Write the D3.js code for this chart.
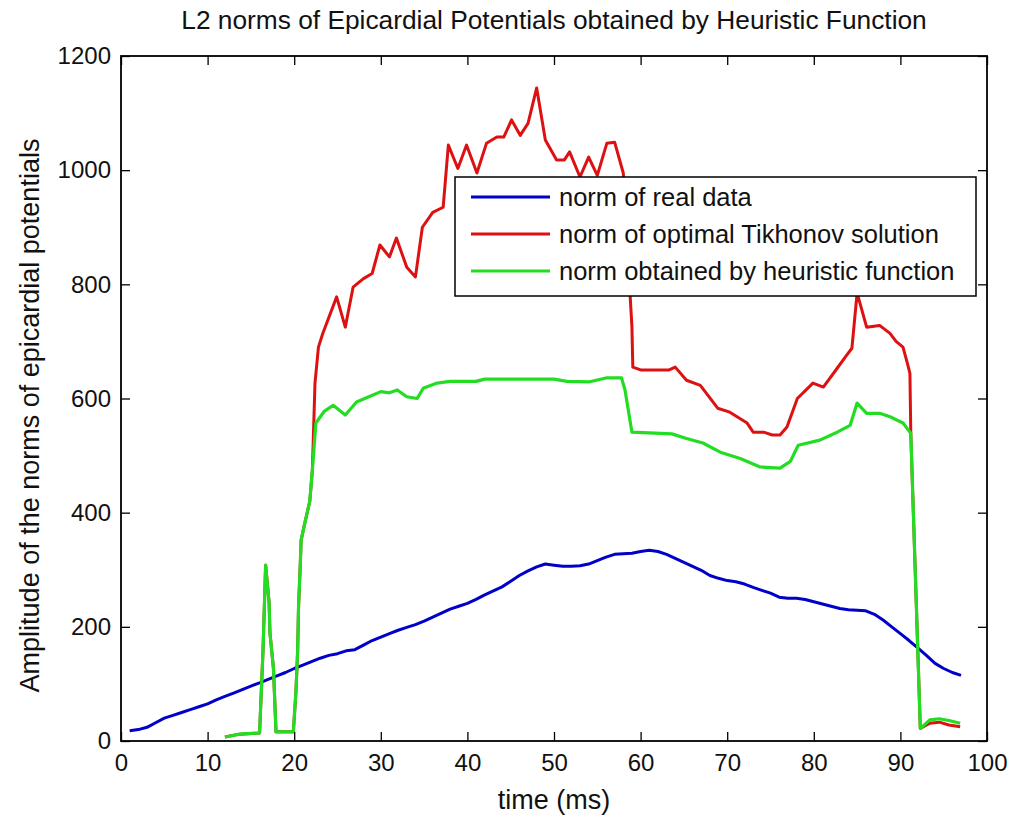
<!DOCTYPE html>
<html>
<head>
<meta charset="utf-8">
<script src="https://cdn.jsdelivr.net/npm/d3@7"></script>
<style>
  body { margin: 0; background: #fff; }
  text { font-family: "Liberation Sans", Arial, sans-serif; fill: #111; }
</style>
</head>
<body>
<svg id="chart"></svg>
<script>
// time axis of the real data (ms)
var realTime = [1, 2, 3, 4, 5, 6, 7, 8, 9, 10, 11, 12, 13, 14, 15, 16, 17, 18, 19, 20,
  21, 22, 23, 24, 25, 26, 27, 28, 29, 30, 31, 32, 33, 34, 35, 36, 37, 38, 39, 40,
  41, 42, 43, 44, 45, 46, 47, 48, 49, 50, 51, 52, 53, 54, 55, 56, 57, 58, 59, 60,
  61, 62, 63, 64, 65, 66, 67, 68, 69, 70, 71, 72, 73, 74, 75, 76, 77, 78, 79, 80,
  81, 82, 83, 84, 85, 86, 87, 88, 89, 90, 91, 92, 93, 94, 95, 96, 97];
var realNorm = [18, 20, 24, 32, 40, 45, 50, 55, 60, 65, 72, 78, 84, 90, 96, 102, 108, 114, 120, 127,
  133, 139, 145, 150, 153, 158, 160, 168, 176, 182, 188, 194, 199, 204, 210, 217, 224, 231, 236, 241,
  248, 256, 263, 270, 280, 290, 298, 305, 310, 308, 306, 306, 307, 310, 316, 322, 327, 328, 329, 332,
  334, 332, 327, 320, 313, 306, 299, 290, 285, 281, 279, 275, 269, 264, 259, 252, 250, 250, 248, 244,
  240, 236, 232, 230, 229, 228, 222, 212, 200, 188, 176, 163, 150, 136, 127, 120, 115];

// optimal Tikhonov solution
var tikTime = [12, 13.7, 16, 16.2, 16.4, 16.7, 17.1, 17.2, 17.6, 17.9, 19.9, 20.2, 20.4, 20.5, 20.7, 20.8,
  21.2, 21.8, 22.1, 22.4, 22.8, 23.3, 24.9, 25.9, 26.8, 28, 29, 29.9, 31, 31.8, 33, 34, 34.8, 36, 37.2,
  37.8, 38.9, 39.9, 41.1, 42.2, 43.4, 44.2, 45.1, 46.1, 47, 48, 49, 50.3, 51.2, 51.8, 53, 54, 55, 56.1,
  57, 58, 58.8, 59, 59.1, 60, 63.3, 64, 65.3, 66.9, 68.9, 70.3, 72.3, 73, 74.2, 75.2, 76.1, 76.9, 78.1,
  79.9, 81.1, 82.7, 83.8, 84.4, 85, 86.1, 87.6, 88.8, 89.5, 90.3, 90.8, 91.1, 91.2, 92.3, 93.4, 94.5,
  95.6, 96.9];
var tikNorm = [7, 12, 14, 86, 159, 308, 243, 189, 128, 16, 16, 86, 159, 235, 308, 352,
  380, 420, 475, 627, 690, 714, 778, 725, 795, 810, 819, 869, 848, 881, 830, 813, 900, 926, 935,
  1044, 1003, 1044, 995, 1047, 1058, 1058, 1088, 1061, 1082, 1144, 1053, 1018, 1018, 1032, 988, 1023, 991, 1047,
  1049, 995, 778, 725, 655, 650, 650, 655, 632, 623, 583, 576, 557, 541, 541, 536, 536, 550, 600,
  627, 620, 653, 676, 688, 785, 725, 728, 714, 700, 690, 662, 644, 539, 22, 31, 33,
  28, 25];

// heuristic function
var heurTime = [12, 13.7, 16, 16.2, 16.4, 16.7, 17.1, 17.2, 17.6, 17.9, 19.9, 20.2, 20.4, 20.5, 20.7, 20.8,
  21.2, 21.8, 22.1, 22.5, 23.5, 24.5, 25.9, 27.2, 29.1, 30, 31, 31.9, 33, 34.2, 34.9, 36.5, 38, 41,
  42, 50, 51.5, 54, 56, 57.8, 58.2, 59, 63.6, 65.3, 67.2, 69.2, 71.5, 73.8, 76.1, 77.3, 78.2, 80.7,
  82.7, 84.2, 85, 86.1, 87.6, 88.8, 90.3, 90.9, 91.2, 92.3, 93.4, 94.5, 95.6, 96.9];
var heurNorm = [7, 12, 14, 86, 159, 308, 243, 189, 128, 16, 16, 86, 159, 235, 308, 352,
  380, 420, 475, 557, 578, 588, 571, 594, 606, 612, 610, 615, 603, 600, 618, 627, 630, 630,
  634, 634, 630, 629, 636, 636, 615, 541, 538, 530, 522, 506, 495, 480, 478, 490, 518, 527,
  541, 553, 592, 574, 574, 568, 557, 545, 539, 22, 37, 39, 36, 31];

var xTicks = [0, 10, 20, 30, 40, 50, 60, 70, 80, 90, 100];
var yTicks = [0, 200, 400, 600, 800, 1000, 1200];
var seriesNames = ['norm of real data', 'norm of optimal Tikhonov solution', 'norm obtained by heuristic function'];
var seriesColors = ['#0000c8', '#dd1111', '#22dd22'];

var width = 1017, height = 816;
var plotLeft = 121, plotRight = 987, plotTop = 56, plotBottom = 741;

var svg = d3.select('#chart').attr('width', width).attr('height', height);

var x = d3.scaleLinear().domain([0, 100]).range([plotLeft, plotRight]);
var y = d3.scaleLinear().domain([0, 1200]).range([plotBottom, plotTop]);

var line = d3.line()
  .x(function(d) { return x(d[0]); })
  .y(function(d) { return y(d[1]); });

var series = [
  d3.zip(realTime, realNorm),
  d3.zip(tikTime, tikNorm),
  d3.zip(heurTime, heurNorm)
];

series.forEach(function(s, i) {
  svg.append('path').datum(s)
    .attr('d', line)
    .attr('fill', 'none')
    .attr('stroke', seriesColors[i])
    .attr('stroke-width', i === 2 ? 3.2 : 3)
    .attr('stroke-linejoin', 'round');
});

// box and inward ticks on all four sides
var tickLen = 9;
var axisStyle = function(g) {
  g.select('.domain').remove();
  g.selectAll('.tick line').attr('stroke', '#000').attr('stroke-width', 1.3);
  g.selectAll('.tick text').attr('font-size', 24).attr('fill', '#111')
    .attr('font-family', '"Liberation Sans", Arial, sans-serif');
};

svg.append('g').attr('transform', 'translate(0,' + plotBottom + ')')
  .call(d3.axisBottom(x).tickValues(xTicks).tickSize(-tickLen).tickPadding(13).tickFormat(d3.format('d')))
  .call(axisStyle);
svg.append('g').attr('transform', 'translate(0,' + plotTop + ')')
  .call(d3.axisTop(x).tickValues(xTicks).tickSize(-tickLen).tickFormat(''))
  .call(axisStyle);
svg.append('g').attr('transform', 'translate(' + plotLeft + ',0)')
  .call(d3.axisLeft(y).tickValues(yTicks).tickSize(-tickLen).tickPadding(10).tickFormat(d3.format('d')))
  .call(axisStyle);
svg.append('g').attr('transform', 'translate(' + plotRight + ',0)')
  .call(d3.axisRight(y).tickValues(yTicks).tickSize(-tickLen).tickFormat(''))
  .call(axisStyle);

svg.append('rect')
  .attr('x', plotLeft).attr('y', plotTop)
  .attr('width', plotRight - plotLeft).attr('height', plotBottom - plotTop)
  .attr('fill', 'none').attr('stroke', '#000').attr('stroke-width', 1.8);

// legend
var legend = svg.append('g').attr('transform', 'translate(455,177)');
legend.append('rect')
  .attr('width', 521).attr('height', 119)
  .attr('fill', '#fff').attr('stroke', '#000').attr('stroke-width', 1.5);
seriesNames.forEach(function(name, i) {
  var ly = 20 + i * 37;
  legend.append('line')
    .attr('x1', 16).attr('x2', 95).attr('y1', ly).attr('y2', ly)
    .attr('stroke', seriesColors[i]).attr('stroke-width', 3);
  legend.append('text')
    .attr('x', 104).attr('y', ly).attr('dy', '0.35em')
    .attr('font-size', 25.5).text(name);
});

// titles
svg.append('text')
  .attr('x', (plotLeft + plotRight) / 2).attr('y', 20).attr('dy', '0.35em')
  .attr('text-anchor', 'middle').attr('font-size', 26.3)
  .text('L2 norms of Epicardial Potentials obtained by Heuristic Function');
svg.append('text')
  .attr('x', (plotLeft + plotRight) / 2).attr('y', 800).attr('dy', '0.35em')
  .attr('text-anchor', 'middle').attr('font-size', 27)
  .text('time (ms)');
svg.append('text')
  .attr('transform', 'translate(30,' + ((plotTop + plotBottom) / 2 + 17) + ') rotate(-90)')
  .attr('dy', '0.35em')
  .attr('text-anchor', 'middle').attr('font-size', 27)
  .text('Amplitude of the norms of epicardial potentials');
</script>
</body>
</html>
